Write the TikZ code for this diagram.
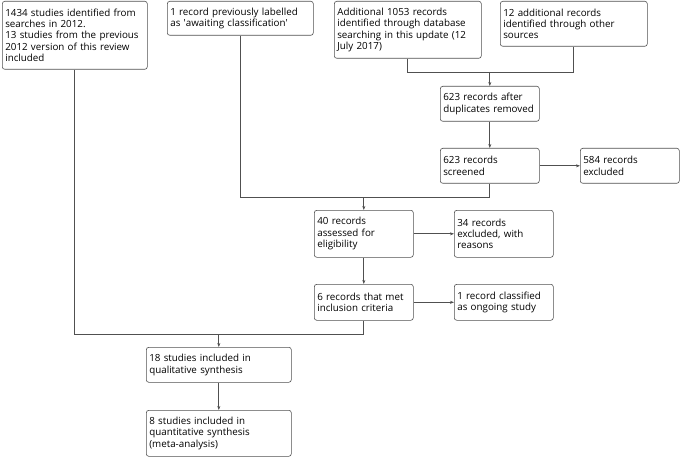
\documentclass[tikz,border=0pt]{standalone}
\usepackage{fontspec}
\setmainfont{Open Sans}
\usetikzlibrary{arrows.meta}
\definecolor{edgegray}{HTML}{505050}

\begin{document}
\begin{tikzpicture}[x=1pt,y=-1pt,
  pbox/.style={draw=edgegray,rounded corners=2.5pt,anchor=north west,inner sep=3pt,
    align=left,font=\fontsize{9.8}{11.4}\selectfont,line width=0.6pt},
  link/.style={draw=edgegray,line width=0.7pt},
  flow/.style={link,-{Stealth[length=4pt,width=3pt]}}]
  \useasboundingbox (0,0) rectangle (682,457);
  % identification
  \node[pbox,text width=139,minimum height=68] (prev) at (2,1)
    {1434 studies identified from\\searches in 2012.\\13 studies from the previous\\2012 version of this review\\included};
  \node[pbox,text width=140,minimum height=34] (await) at (167,1)
    {1 record previously labelled\\as \textquotesingle awaiting classification\textquotesingle};
  \node[pbox,text width=141,minimum height=57] (dbase) at (334,1)
    {Additional 1053 records\\identified through database\\searching in this update (12\\July 2017)};
  \node[pbox,text width=141,minimum height=45] (other) at (500,1)
    {12 additional records\\identified through other\\sources};
  % screening
  \node[pbox,text width=93,minimum height=35] (dupl) at (440,86)
    {623 records after\\duplicates removed};
  \node[pbox,text width=93,minimum height=35] (screen) at (440,148)
    {623 records\\screened};
  \node[pbox,text width=93,minimum height=35] (excl) at (580,148)
    {584 records\\excluded};
  % eligibility
  \node[pbox,text width=93,minimum height=47] (elig) at (314,210)
    {40 records\\assessed for\\eligibility};
  \node[pbox,text width=93,minimum height=47] (reas) at (454,210)
    {34 records\\excluded, with\\reasons};
  \node[pbox,text width=93,minimum height=36] (met) at (314,284)
    {6 records that met\\inclusion criteria};
  \node[pbox,text width=93,minimum height=36] (ongo) at (454,284)
    {1 record classified\\as ongoing study};
  % included
  \node[pbox,text width=139,minimum height=35] (qual) at (146,347)
    {18 studies included in\\qualitative synthesis};
  \node[pbox,text width=139,minimum height=46] (quant) at (146,410)
    {8 studies included in\\quantitative synthesis\\(meta-analysis)};
  % junction rows
  \coordinate (j1) at (0,72);
  \coordinate (j2) at (0,197);
  \coordinate (j3) at (0,334);
  % connectors
  \draw[link] (dbase.south) -- (dbase.south |- j1) -- (other.south |- j1) -- (other.south);
  \draw[flow] (dupl.north |- j1) -- (dupl.north);
  \draw[flow] (dupl) -- (screen);
  \draw[flow] (screen) -- (excl);
  \draw[link] (await.south) -- (await.south |- j2) -- (screen.south |- j2) -- (screen.south);
  \draw[flow] (elig.north |- j2) -- (elig.north);
  \draw[flow] (elig) -- (reas);
  \draw[flow] (elig) -- (met);
  \draw[flow] (met) -- (ongo);
  \draw[link] (prev.south) -- (prev.south |- j3) -- (met.south |- j3) -- (met.south);
  \draw[flow] (qual.north |- j3) -- (qual.north);
  \draw[flow] (qual) -- (quant);
\end{tikzpicture}
\end{document}
